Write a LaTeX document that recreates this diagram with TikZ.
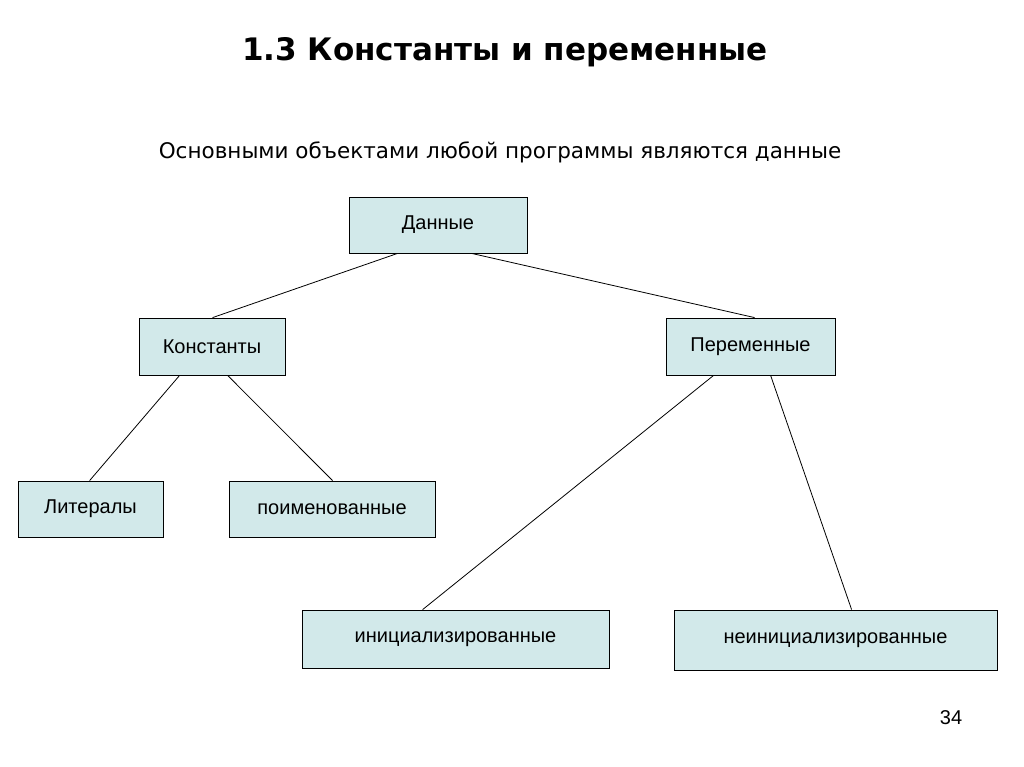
\documentclass[tikz,border=0pt]{standalone}
\usepackage{fontspec}
\setmainfont{Liberation Sans}
\newfontfamily\djfont{DejaVu Sans}
\usetikzlibrary{calc}
\definecolor{boxfill}{HTML}{D2E9EA}
\begin{document}
\begin{tikzpicture}[x=1pt,y=-1pt,
  bx/.style={draw=black,fill=boxfill,line width=0.8pt,inner sep=0pt,font=\fontsize{20}{22}\selectfont},
  ln/.style={line width=0.8pt}]
\useasboundingbox (0,0) rectangle (1024,767);
\fill[white] (0,0) rectangle (1024,767);
\node[font=\djfont\bfseries\fontsize{31}{34}\selectfont] (title) at (505,52) {1.3 Константы и переменные};
\node[font=\djfont\fontsize{21.5}{24}\selectfont] (sub) at (500,152) {Основными объектами любой программы являются данные};
\node[bx,minimum width=178,minimum height=56] (d) at (438,225) {Данные};
\node[bx,minimum width=146,minimum height=57] (k) at (212,346.5) {Константы};
\node[bx,minimum width=169,minimum height=57] (p) at (750.5,346.5) {Переменные};
\node[bx,minimum width=145,minimum height=56] (l) at (90.5,509) {Литералы};
\node[bx,minimum width=206,minimum height=56] (n) at (332,509) {поименованные};
\node[bx,minimum width=307,minimum height=58] (i) at (455.5,639) {инициализированные};
\node[bx,minimum width=323,minimum height=60] (u) at (835.5,640) {неинициализированные};
\draw[ln] ($(d.south west)+(49,0)$) -- ($(k.north west)+(74,0)$);
\draw[ln] ($(d.south west)+(123,0)$) -- ($(p.north west)+(89,0)$);
\draw[ln] ($(k.south west)+(41,0)$) -- ($(l.north west)+(72,0)$);
\draw[ln] ($(k.south west)+(89,0)$) -- ($(n.north west)+(104,0)$);
\draw[ln] ($(p.south west)+(48,0)$) -- ($(i.north west)+(121,0)$);
\draw[ln] ($(p.south west)+(105,0)$) -- ($(u.north west)+(178,0)$);
\node[font=\fontsize{20}{22}\selectfont] (pg) at (951,718) {34};
\end{tikzpicture}
\end{document}
